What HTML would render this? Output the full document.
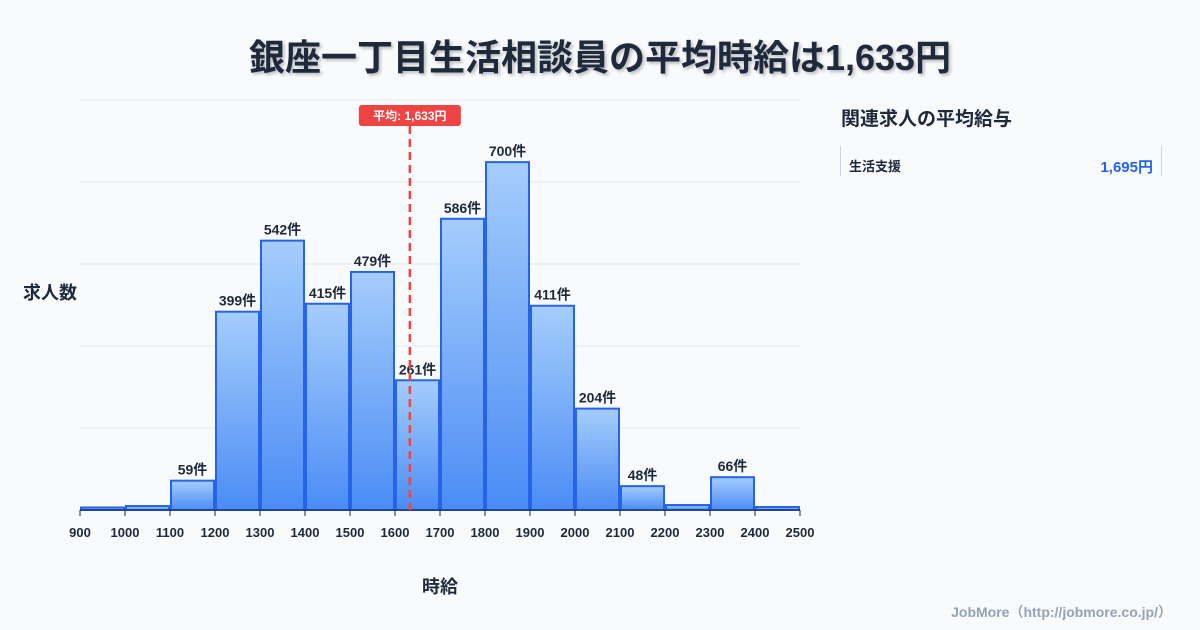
<!DOCTYPE html>
<html><head><meta charset="utf-8">
<style>
body{margin:0;width:1200px;height:630px;background:#f8fafc;font-family:"Liberation Sans","Noto Sans CJK JP",sans-serif;overflow:hidden;position:relative}
#title{position:absolute;top:29px;left:0;width:1200px;text-align:center;font-size:36px;font-weight:bold;color:#1e293b;text-shadow:2px 2px 3px rgba(0,0,0,0.25)}
#side-title{position:absolute;left:841px;top:104px;font-size:19px;font-weight:bold;color:#1e293b}
#side-item{position:absolute;left:840px;top:146px;width:320px;height:30px;border-left:1px solid #cbd5e1;border-right:1px solid #cbd5e1}
#side-item .n{position:absolute;left:8px;top:10px;font-size:13px;font-weight:bold;color:#1e293b}
#side-item .v{position:absolute;right:8px;top:10px;font-size:15px;font-weight:bold;color:#2563eb}
#credit{position:absolute;right:28px;top:602px;font-size:14px;font-weight:bold;color:#94a3b8}
</style></head><body>
<div id="title">銀座一丁目生活相談員の平均時給は1,633円</div>
<svg id="chart" width="1200" height="630" style="position:absolute;left:0;top:0"></svg>
<div id="side-title">関連求人の平均給与</div>
<div id="side-item"><span class="n">生活支援</span><span class="v">1,695円</span></div>
<div id="credit">JobMore（http://jobmore.co.jp/）</div>
<script>
const binStarts=[900,1000,1100,1200,1300,1400,1500,1600,1700,1800,1900,2000,2100,2200,2300,2400];
const counts=[5,8,59,399,542,415,479,261,586,700,411,204,48,10,66,6];
const xTicks=[900,1000,1100,1200,1300,1400,1500,1600,1700,1800,1900,2000,2100,2200,2300,2400,2500];
const gridVals=[165,330,495,660,825];
const meanVal=1633;
const NS="http://www.w3.org/2000/svg";
const svg=document.getElementById('chart');
const x=v=>80+(v-900)*720/1600;
const y=v=>510-v*410/825;
function mk(t,a){const e=document.createElementNS(NS,t);for(const k in a)e.setAttribute(k,a[k]);svg.appendChild(e);return e;}
const defs=mk('defs',{});
defs.innerHTML='<linearGradient id="g" x1="0" y1="0" x2="0" y2="1"><stop offset="0" stop-color="#a5cdfc"/><stop offset="1" stop-color="#4b8cf5"/></linearGradient>';
gridVals.forEach(v=>{const l=mk('line',{x1:80,x2:800,y1:y(v),y2:y(v),stroke:'#e2e8f0','stroke-width':1});

});
binStarts.forEach((b,i)=>{const top=y(counts[i]);
const r=mk('rect',{x:x(b)+1,y:top,width:x(b+100)-x(b)-2,height:510-top,fill:'url(#g)',stroke:'#2563eb','stroke-width':2});


if(counts[i]>=40){const t=mk('text',{x:(x(b)+x(b+100))/2,y:top-6,'text-anchor':'middle','font-size':14,'font-weight':'bold',fill:'#1e293b'});t.textContent=counts[i]+'件';

}});
mk('line',{x1:80,x2:800,y1:510,y2:510,stroke:'#1e293b','stroke-width':1});
xTicks.forEach(v=>{mk('line',{x1:x(v),x2:x(v),y1:510,y2:516,stroke:'#1e293b'});
const t=mk('text',{x:x(v),y:537,'text-anchor':'middle','font-size':13,'font-weight':'bold',fill:'#1e293b'});t.textContent=v;

});
const ml=mk('line',{x1:x(meanVal),x2:x(meanVal),y1:126,y2:510,stroke:'#ef4444','stroke-width':2.5,'stroke-dasharray':'8,5'});


const mx=x(meanVal);
const mr=mk('rect',{x:mx-51,y:105,width:102,height:21,rx:3,fill:'#ef4444'});


const mt=mk('text',{x:mx,y:120,'text-anchor':'middle','font-size':12,'font-weight':'bold',fill:'#fff'});mt.textContent='平均: 1,633円';
const yt=mk('text',{x:50,y:299,'text-anchor':'middle','font-size':18,'font-weight':'bold',fill:'#1e293b'});yt.textContent='求人数';


const xt=mk('text',{x:440,y:593,'text-anchor':'middle','font-size':18,'font-weight':'bold',fill:'#1e293b'});xt.textContent='時給';


</script>
</body></html>
